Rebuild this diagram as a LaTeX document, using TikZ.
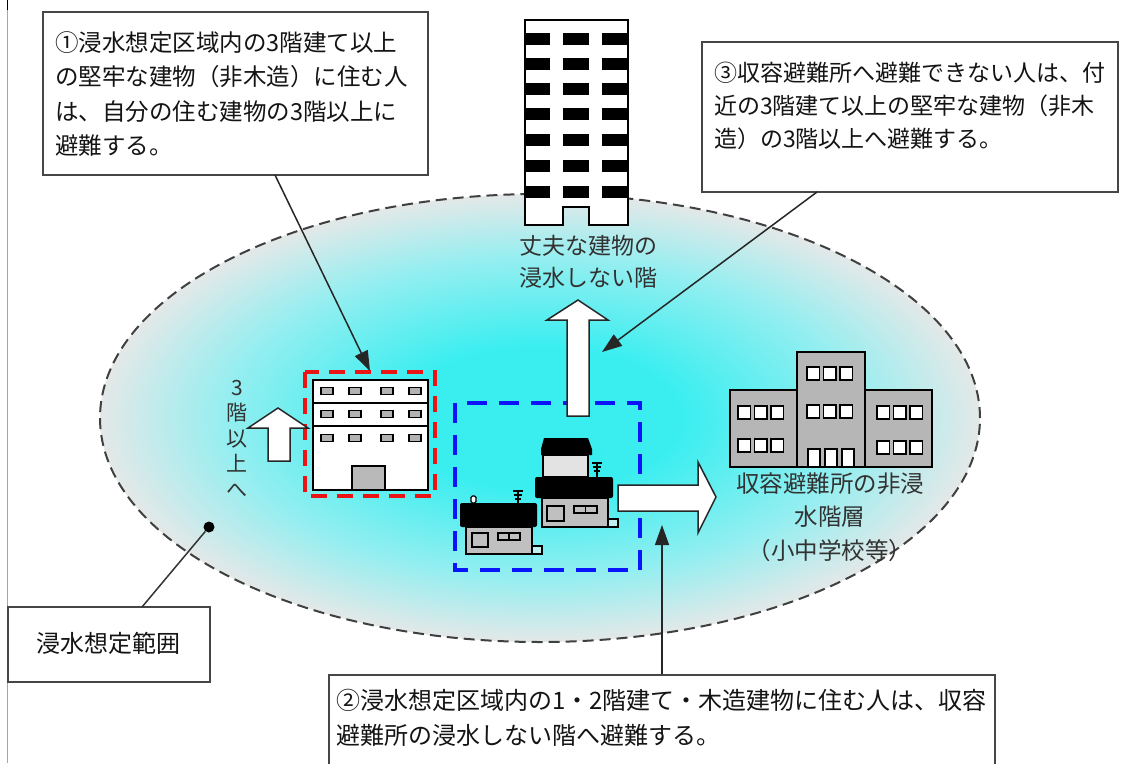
\documentclass[tikz,border=0pt]{standalone}
\usepackage{fontspec}
\newfontfamily\jp{Noto Sans CJK JP}
\usetikzlibrary{arrows.meta}

\definecolor{floodcore}{RGB}{58,238,240}
\definecolor{floodmid}{RGB}{150,238,240}
\definecolor{floodrim}{RGB}{228,232,232}
\definecolor{boxline}{RGB}{70,70,70}
\definecolor{inktext}{RGB}{20,20,20}
\definecolor{softtext}{RGB}{50,50,50}
\definecolor{zonered}{RGB}{235,20,20}
\definecolor{zoneblue}{RGB}{10,20,250}
\definecolor{wallgray}{RGB}{182,182,182}
\definecolor{housegray}{RGB}{192,192,192}
\definecolor{steptint}{RGB}{190,240,240}

\pgfdeclareradialshading{floodzone}{\pgfpoint{0bp}{0bp}}{%
  color(0bp)=(floodcore); color(8bp)=(floodcore);
  color(18bp)=(floodmid); color(25bp)=(floodrim); color(50bp)=(floodrim)}

\newcommand\firstline{\rule{0pt}{20pt}}

\begin{document}
\begin{tikzpicture}[x=1pt,y=-1pt,
  callbox/.style={draw=boxline, line width=2.6pt, fill=white, inner sep=0pt},
  calltext/.style={inner sep=0pt, anchor=north west, align=left, text=inktext,
    font=\jp\fontsize{23.5}{34.5}\selectfont},
  zonetext/.style={inner sep=0pt, align=center, text=softtext,
    font=\jp\fontsize{23}{32}\selectfont},
  pointer/.style={line width=1.5pt, draw=black!85,
    -{Triangle[length=20pt,width=14pt]}},
  leader/.style={line width=1.5pt, draw=black!80},
  blockarrow/.style={draw=black!85, line width=1.5pt, fill=white, line join=miter},
  outline/.style={draw=black, line width=1.9pt},
]
\useasboundingbox (0,0) rectangle (1124,763);
\fill[white] (0,0) rectangle (1124,763);

% page edge rule on the left
\draw[gray!70, line width=1.3pt] (7.5,0) -- (7.5,763);
\draw[black, line width=1.5pt] (7.5,0) -- (7.5,10);

% expected inundation zone
\shade[shading=floodzone] (540,418) ellipse [x radius=440pt, y radius=224pt];
\draw[black!75, line width=2pt, dash pattern=on 11pt off 6pt]
  (540,418) ellipse [x radius=440pt, y radius=224pt];

% evacuation zones
\draw[zonered, line width=3.2pt, dash pattern=on 16pt off 10pt] (305,372) rectangle (435,496);
\draw[zoneblue, line width=3.2pt, dash pattern=on 20pt off 12pt] (455,403) rectangle (640,570);

% tall sturdy building
\draw[outline, fill=white] (525,20) -- (628,20) -- (628,225) -- (589,225) -- (589,207)
  -- (563,207) -- (563,225) -- (525,225) -- cycle;
\foreach \wy in {33,58,83,108,134,160,186}{
  \fill[black] (525,\wy) rectangle (550,\wy+12);
  \fill[black] (563,\wy) rectangle (589,\wy+12);
  \fill[black] (602,\wy) rectangle (628,\wy+12);
}
\node[zonetext, anchor=north] (tallcap) at (588,234)
  {\firstline 丈夫な建物の\\浸水しない階};

% three-storey concrete building
\draw[outline, fill=white] (313,380) rectangle (428,490);
\draw[outline] (313,403) -- (428,403);
\draw[outline] (313,426) -- (428,426);
\foreach \wx in {327,355,387,415}{
  \foreach \wy in {391,414,438}{
    \draw[black, line width=1.4pt, fill=gray!60] (\wx-6,\wy-3.5) rectangle (\wx+6,\wy+3.5);
  }
}
\draw[outline, fill=gray!55] (352,466) rectangle (385,490);

% vertical label beside it
\node[zonetext, font=\jp\fontsize{21}{25.5}\selectfont, anchor=north] (upcap) at (237,375)
  {\firstline 3\\階\\以\\上\\へ};

% block arrows
\draw[blockarrow] (268,461) -- (268,428) -- (248,428) -- (278,408) -- (308,428)
  -- (290,428) -- (290,461) -- cycle;
\draw[blockarrow] (567,416) -- (567,320) -- (547,320) -- (578,300) -- (608,320)
  -- (589,320) -- (589,416) -- cycle;
\draw[blockarrow] (618,485) -- (698,485) -- (698,462) -- (716,497) -- (698,533)
  -- (698,511) -- (618,511) -- cycle;

% wooden houses
\fill[black, rounded corners=2pt] (460,503) rectangle (537,527);
\draw[black, line width=1.3pt, fill=white, rounded corners=1.5pt] (471,503) rectangle (476,496);
\draw[outline, fill=housegray] (466,527) rectangle (532,554);
\draw[black, line width=1.6pt] (472,533) rectangle (488,547);
\draw[black, line width=1.4pt, fill=housegray] (498,533) rectangle (520,540);
\draw[black, line width=1.4pt] (509,533) -- (509,540);
\draw[black, line width=1.3pt, fill=steptint] (532,546) rectangle (542,554);
\draw[black, line width=1.2pt] (518,503) -- (518,490);
\foreach \ay/\aw in {491/5,495/4,499/3}{\draw[black, line width=1.2pt] (518-\aw,\ay) -- (518+\aw,\ay);}

\fill[black] (544,438) -- (588,438) -- (592,449) -- (592,455) -- (541,455) -- (541,449) -- cycle;
\draw[outline, fill=gray!22] (543,455) rectangle (588,477);
\fill[black, rounded corners=2pt] (535,477) rectangle (613,498);
\draw[outline, fill=housegray] (542,498) rectangle (608,527);
\draw[black, line width=1.6pt] (547,506) rectangle (564,521);
\draw[black, line width=1.4pt, fill=housegray] (574,506) rectangle (597,513);
\draw[black, line width=1.4pt] (585.5,506) -- (585.5,513);
\draw[black, line width=1.3pt, fill=steptint] (608,519) rectangle (618,527);
\draw[black, line width=1.2pt] (597,477) -- (597,462);
\foreach \ay/\aw in {463/5,467/4,471/3}{\draw[black, line width=1.2pt] (597-\aw,\ay) -- (597+\aw,\ay);}

% school used as shelter
\draw[outline, fill=wallgray] (730,390) rectangle (797,467);
\draw[outline, fill=wallgray] (865,390) rectangle (932,467);
\draw[outline, fill=wallgray] (797,352) rectangle (865,467);
\foreach \gx/\gy in {738/406,738/439,807/367,807/405,877/406,877/441}{
  \foreach \k in {0,1,2}{
    \draw[black, line width=1.7pt, fill=white] (\gx+\k*16.5,\gy) rectangle (\gx+\k*16.5+12.5,\gy+13);
  }
}
\foreach \dx in {808,825,842}{
  \draw[black, line width=1.5pt, fill=white] (\dx,467) -- (\dx,449) -- (\dx+12,449) -- (\dx+12,467);
}
\draw[outline] (730,467) -- (932,467);
\node[zonetext, font=\jp\fontsize{23.5}{33.5}\selectfont, anchor=north] (schoolcap) at (830,472)
  {\firstline 収容避難所の非浸\\水階層\\（小中学校等）};

% callout boxes
\node[callbox, minimum width=385, minimum height=163] (note1) at (235.5,93.5) {};
\node[calltext] (note1txt) at (55,31)
  {\firstline ①浸水想定区域内の3階建て以上\\の堅牢な建物（非木造）に住む人\\は、自分の住む建物の3階以上に\\避難する。};

\node[callbox, minimum width=416, minimum height=150] (note3) at (910,117) {};
\node[calltext, font=\jp\fontsize{23}{33}\selectfont] (note3txt) at (714,61)
  {\firstline ③収容避難所へ避難できない人は、付\\近の3階建て以上の堅牢な建物（非木\\造）の3階以上へ避難する。};

\node[callbox, minimum width=666, minimum height=120] (note2) at (662,735) {};
\node[calltext, font=\jp\fontsize{24}{35}\selectfont] (note2txt) at (336,689)
  {\firstline ②浸水想定区域内の1・2階建て・木造建物に住む人は、収容\\避難所の浸水しない階へ避難する。};

\node[callbox, minimum width=202, minimum height=75] (zonebox) at (109,644.5) {};
\node[inner sep=0pt, text=inktext, font=\jp\fontsize{24}{28}\selectfont] (zonetxt) at (108,643) {浸水想定範囲};

% leaders and pointers
\coordinate (n1foot) at (275,175);
\coordinate (n1tip) at (370,371);
\draw[pointer] (n1foot) -- (n1tip);

\coordinate (n3foot) at (817,192);
\coordinate (n3tip) at (602,352);
\draw[pointer] (n3foot) -- (n3tip);

\coordinate (n2tip) at (662,525);
\draw[pointer] (note2.north) -- (n2tip);

\node[circle, fill=black, inner sep=0pt, minimum size=11pt] (zonedot) at (209,527) {};
\coordinate (zonefoot) at (142,607);
\draw[leader] (zonedot) -- (zonefoot);
\end{tikzpicture}
\end{document}
